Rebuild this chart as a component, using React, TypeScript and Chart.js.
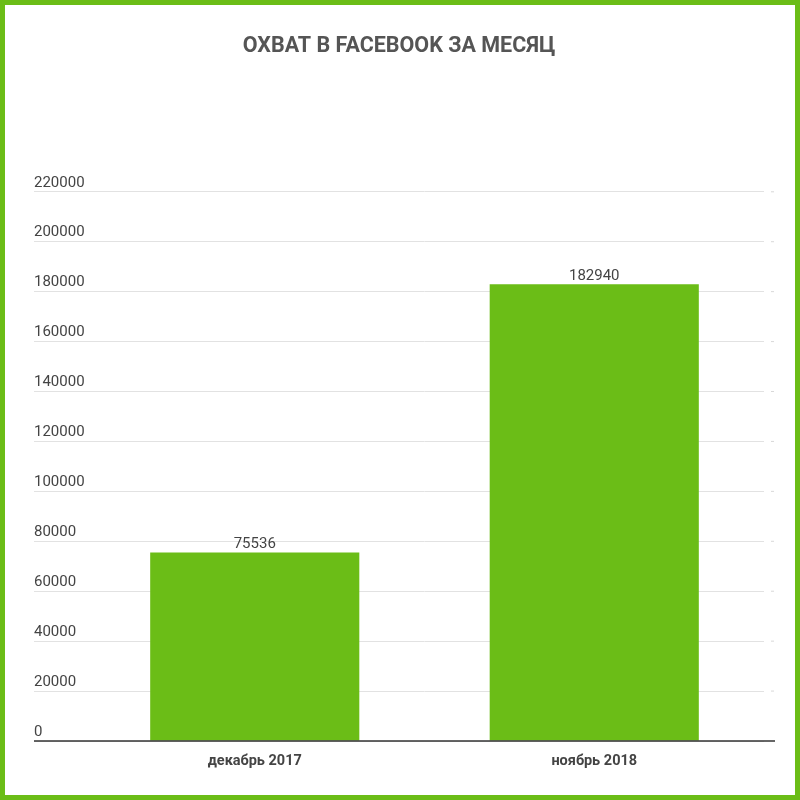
import { useEffect, useRef } from 'react';
import { Chart, registerables, type Plugin } from 'chart.js';

Chart.register(...registerables);

const categories = ['декабрь 2017', 'ноябрь 2018'];
const reach = [75536, 182940];
const yTicks = [0, 20000, 40000, 60000, 80000, 100000, 120000, 140000, 160000, 180000, 200000, 220000];

const GREEN = '#6bbd17';
const TEXT = '#444444';

// dark baseline (runs a bit past the plot on both sides) + value labels over bars
const barExtras: Plugin<'bar'> = {
  id: 'barExtras',
  afterDatasetsDraw(chart) {
    const { ctx, chartArea, scales } = chart;
    const y0 = scales.y.getPixelForValue(0);
    ctx.save();
    ctx.strokeStyle = '#333333';
    ctx.lineWidth = 1.5;
    ctx.beginPath();
    ctx.moveTo(scales.y.left, y0);
    ctx.lineTo(chartArea.right + 11, y0);
    ctx.stroke();

    // faint little marks right of the grid
    ctx.strokeStyle = '#d8d8d8';
    ctx.lineWidth = 1;
    yTicks.slice(1).forEach((v) => {
      const y = scales.y.getPixelForValue(v);
      ctx.beginPath();
      ctx.moveTo(chartArea.right + 7, y);
      ctx.lineTo(chartArea.right + 10, y);
      ctx.stroke();
    });

    ctx.font = '15px Roboto';
    ctx.fillStyle = TEXT;
    ctx.textAlign = 'center';
    ctx.textBaseline = 'alphabetic';
    const meta = chart.getDatasetMeta(0);
    meta.data.forEach((bar, i) => {
      ctx.fillText(String(reach[i]), bar.x, bar.y - 4);
    });
    ctx.restore();
  },
};

function ReachChart() {
  const chartRef = useRef<HTMLCanvasElement>(null);
  const chartInstance = useRef<Chart | null>(null);

  useEffect(() => {
    if (!chartRef.current) return;
    if (chartInstance.current) chartInstance.current.destroy();

    chartInstance.current = new Chart(chartRef.current, {
      type: 'bar',
      data: {
        labels: categories,
        datasets: [
          {
            data: reach,
            backgroundColor: GREEN,
            borderWidth: 0,
            barPercentage: 0.616,
            categoryPercentage: 1,
          },
        ],
      },
      options: {
        animation: false,
        responsive: false,
        layout: { padding: { left: 29, right: 31, top: 0, bottom: 0 } },
        plugins: {
          legend: { display: false },
          tooltip: { enabled: false },
          title: {
            display: true,
            text: 'ОХВАТ В FACEBOOK ЗА МЕСЯЦ',
            color: '#555555',
            font: { family: 'Roboto', size: 21.5, weight: 'bold' },
            padding: { top: 29, bottom: 132 },
          },
        },
        scales: {
          x: {
            grid: { display: false },
            border: { display: false },
            ticks: {
              color: TEXT,
              font: { family: 'Roboto', size: 14.5, weight: 'bold' },
              padding: 4,
            },
            afterFit(scale) {
              scale.height = 54;
            },
          },
          y: {
            min: 0,
            max: 220000,
            afterBuildTicks(scale) {
              scale.ticks = yTicks.map((v) => ({ value: v }));
            },
            grid: { color: '#e2e2e2', lineWidth: 1, tickLength: 51 },
            border: { display: false },
            ticks: {
              color: TEXT,
              font: { family: 'Roboto', size: 15 },
              crossAlign: 'far',
              labelOffset: -9,
              padding: 0,
              callback: (value) => String(value),
            },
            afterFit(scale) {
              scale.width = 51;
            },
          },
        },
      },
      plugins: [barExtras],
    });

    return () => {
      if (chartInstance.current) {
        chartInstance.current.destroy();
        chartInstance.current = null;
      }
    };
  }, []);

  return <canvas ref={chartRef} width={790} height={790} style={{ display: 'block' }} />;
}

export default function App() {
  return (
    <div
      style={{
        position: 'fixed',
        top: 0,
        left: 0,
        width: 800,
        height: 800,
        boxSizing: 'border-box',
        border: `5px solid ${GREEN}`,
        background: '#ffffff',
      }}
    >
      <ReachChart />
    </div>
  );
}
